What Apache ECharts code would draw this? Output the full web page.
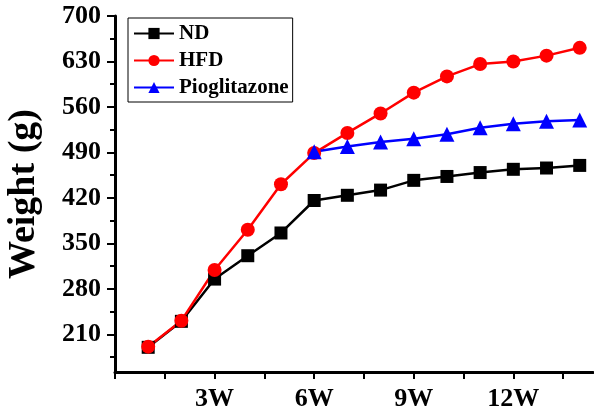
<!DOCTYPE html>
<html>
<head>
<meta charset="utf-8">
<script src="https://cdn.jsdelivr.net/npm/echarts@6/dist/echarts.min.js"></script>
<style>
  html, body { margin: 0; padding: 0; background: #fff; }
  #main { width: 594px; height: 415px; }
</style>
</head>
<body>
<div id="main"></div>
<script>
// weeks and body weight (g)
var weeks = [1, 2, 3, 4, 5, 6, 7, 8, 9, 10, 11, 12, 13, 14];
var ndWeight = [190, 230, 295, 331, 366, 416, 424, 432, 447, 453, 459, 464, 466, 470];
var hfdWeight = [191, 231, 309, 371, 441, 489, 520, 550, 582, 607, 626, 630, 639, 651];
// pioglitazone starts at week 6
var pioWeeks = [6, 7, 8, 9, 10, 11, 12, 13, 14];
var pioWeight = [491, 499, 506, 511, 518, 528, 534, 538, 540];

var xLabelWeeks = [3, 6, 9, 12];
var xTickWeeks = [0, 1.5, 3, 4.5, 6, 7.5, 9, 10.5, 12, 13.5];
var yLabels = [210, 280, 350, 420, 490, 560, 630, 700];
var yMinorTicks = [175, 245, 315, 385, 455, 525, 595, 665];

function pairs(xs, ys) {
    return xs.map(function (x, i) { return [x, ys[i]]; });
}

var font = 'Liberation Serif';
var myChart = echarts.init(document.getElementById('main'));
myChart.setOption({
    animation: false,
    grid: { left: 115, right: 1, top: 16, bottom: 43, containLabel: false, outerBoundsMode: 'none' },
    legend: {
        orient: 'vertical',
        left: 128,
        top: 18,
        padding: [5, 4, 4, 5],
        borderColor: '#000',
        borderWidth: 1,
        itemWidth: 40,
        itemHeight: 14,
        itemGap: 6,
        textStyle: { fontFamily: font, fontWeight: 'bold', fontSize: 21, color: '#000' },
        data: ['ND', 'HFD', 'Pioglitazone']
    },
    xAxis: {
        type: 'value',
        min: 0,
        max: 14.4,
        splitLine: { show: false },
        axisLine: { onZero: false, lineStyle: { color: '#000', width: 3 } },
        axisTick: { customValues: xTickWeeks, length: 7, lineStyle: { width: 2, color: '#000' } },
        axisLabel: {
            customValues: xLabelWeeks,
            margin: 14,
            formatter: function (v) { return v + 'W'; },
            fontFamily: font, fontWeight: 'bold', fontSize: 26, color: '#000'
        }
    },
    yAxis: [{
        type: 'value',
        min: 152,
        max: 700,
        name: 'Weight (g)',
        nameLocation: 'middle',
        nameGap: 72,
        nameTextStyle: { fontFamily: font, fontWeight: 'bold', fontSize: 38, color: '#000' },
        splitLine: { show: false },
        axisLine: { show: true, lineStyle: { color: '#000', width: 3 } },
        axisTick: { customValues: yLabels, length: 8, lineStyle: { width: 2, color: '#000' } },
        axisLabel: {
            customValues: yLabels,
            margin: 14,
            fontFamily: font, fontWeight: 'bold', fontSize: 26, color: '#000'
        }
    }, {
        type: 'value',
        position: 'left',
        min: 152,
        max: 700,
        splitLine: { show: false },
        axisLine: { show: false },
        axisTick: { customValues: yMinorTicks, length: 5, lineStyle: { width: 2, color: '#000' } },
        axisLabel: { show: false }
    }],
    series: [
        {
            name: 'ND',
            type: 'line',
            data: pairs(weeks, ndWeight),
            symbol: 'rect',
            symbolSize: 13,
            color: '#000',
            lineStyle: { width: 2.5 }
        },
        {
            name: 'HFD',
            type: 'line',
            data: pairs(weeks, hfdWeight),
            symbol: 'circle',
            symbolSize: 14,
            color: '#ff0000',
            lineStyle: { width: 2.5 }
        },
        {
            name: 'Pioglitazone',
            type: 'line',
            data: pairs(pioWeeks, pioWeight),
            symbol: 'triangle',
            symbolSize: 15,
            color: '#0000ff',
            lineStyle: { width: 2.5 }
        }
    ]
});
</script>
</body>
</html>
